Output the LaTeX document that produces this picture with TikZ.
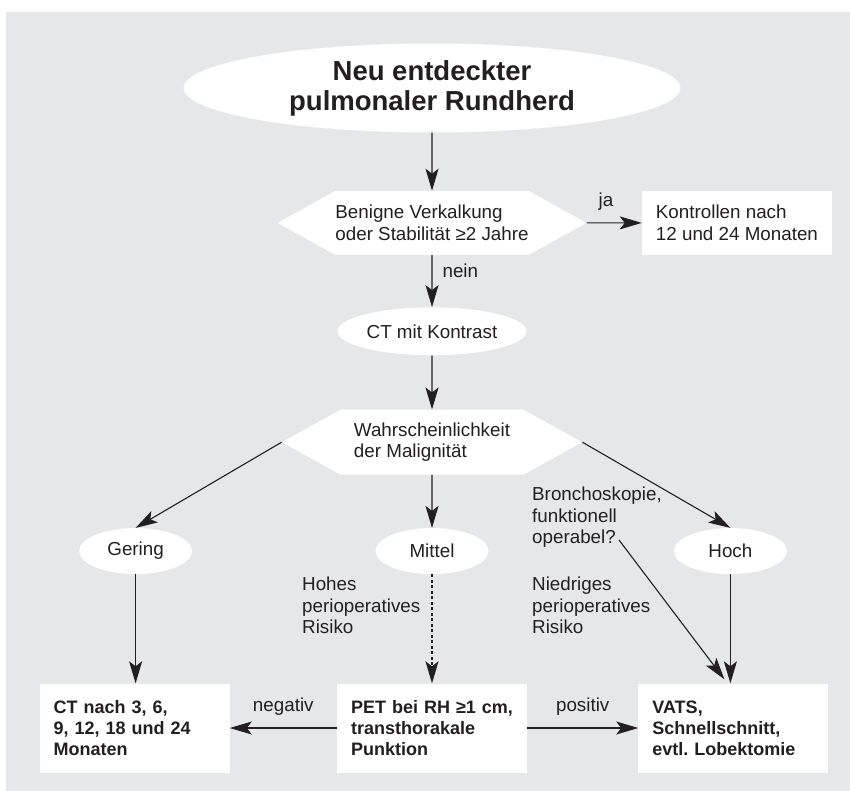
\documentclass[tikz,border=0pt]{standalone}
\usepackage{fontspec}
\setmainfont{Liberation Sans}
\usetikzlibrary{arrows.meta,positioning,shapes.geometric,shapes.symbols,calc}
\definecolor{bggray}{HTML}{E6E7E9}
\definecolor{ink}{HTML}{231F20}

\begin{document}
\begin{tikzpicture}[
  x=1pt, y=-1pt,
  font=\fontsize{18.8}{21.5}\selectfont,
  text=ink,
  oval/.style={ellipse, fill=white, inner sep=0pt, minimum width=113pt, minimum height=46pt},
  hexa/.style={signal, signal to=west and east, signal pointer angle=58, fill=white, minimum width=300pt, minimum height=64pt, inner sep=0pt, align=left},
  kbox/.style={fill=white, minimum height=64pt, minimum width=190pt, inner xsep=14pt, align=left},
  box/.style={fill=white, minimum height=89pt, text width=162pt, inner xsep=14pt, align=left, font=\fontsize{18}{21}\selectfont\bfseries},
  lbl/.style={align=left, inner sep=0pt, anchor=north west},
  tag/.style={inner sep=2pt},
  ar/.style={draw=ink, line width=1.1pt, -{Stealth[length=22pt, width=13pt, inset=5pt]}}
]

\fill[bggray] (6,12) rectangle (850,791);
\useasboundingbox (0,0) rectangle (850,791);

\node[oval, minimum width=497pt, minimum height=89pt, align=center, font=\fontsize{27.5}{30}\selectfont\bfseries] (herd) at (432,88) {Neu entdeckter\\pulmonaler Rundherd};
\node[hexa, below=58pt of herd] (kalk) {Benigne Verkalkung\\oder Stabilität ≥2 Jahre};
\node[kbox, right=55pt of kalk] (kontr) {Kontrollen nach\\12 und 24 Monaten};
\node[oval, minimum width=189pt, minimum height=48pt, below=52pt of kalk] (ctk) {CT mit Kontrast};
\node[hexa, minimum height=65pt, below=54pt of ctk] (malig) {Wahrscheinlichkeit\\der Malignität};
\node[oval, below=53pt of malig] (mittel) {Mittel};
\node[oval, left=183pt of mittel] (gering) {Gering};
\node[oval, right=185pt of mittel] (hoch) {Hoch};
\node[box, below=109pt of mittel] (pet) {PET bei RH ≥1 cm,\\transthorakale\\Punktion};
\node[box, left=107pt of pet] (ctmon) {CT nach 3, 6,\\9, 12, 18 und 24\\Monaten};
\node[box, right=111pt of pet] (vats) {VATS,\\Schnellschnitt,\\evtl.\ Lobektomie};

\node[lbl] (hohes) at (302,577) {Hohes\\perioperatives\\Risiko};
\node[lbl] (bronch) at (532,487) {Bronchoskopie,\\funktionell\\operabel?};
\node[lbl] (niedr) at (532,577) {Niedriges\\perioperatives\\Risiko};
\coordinate (opq) at (619,540);

\draw[ar] (herd) -- (kalk);
\draw[ar] (kalk) -- node[tag, above=10pt, pos=0.35] {ja} (kontr);
\draw[ar] (kalk) -- node[tag, right=8pt, pos=0.3] {nein} (ctk);
\draw[ar] (ctk) -- (malig);
\draw[ar] (malig.west) -- (gering.north);
\draw[ar] (malig) -- (mittel);
\draw[ar] (malig.east) -- (hoch.north);
\draw[ar] (gering.south) -- (gering.south |- ctmon.north);
\draw[ar, dash pattern=on 3pt off 2.5pt] (mittel) -- (pet);
\draw[ar] (hoch.south) -- (hoch.south |- vats.north);
\draw[ar] (opq) -- ($(vats.north)+(-9,-4)$);
\draw[ar] (pet) -- node[tag, above=10pt] {negativ} (ctmon);
\draw[ar] (pet) -- node[tag, above=10pt] {positiv} (vats);

\end{tikzpicture}
\end{document}
